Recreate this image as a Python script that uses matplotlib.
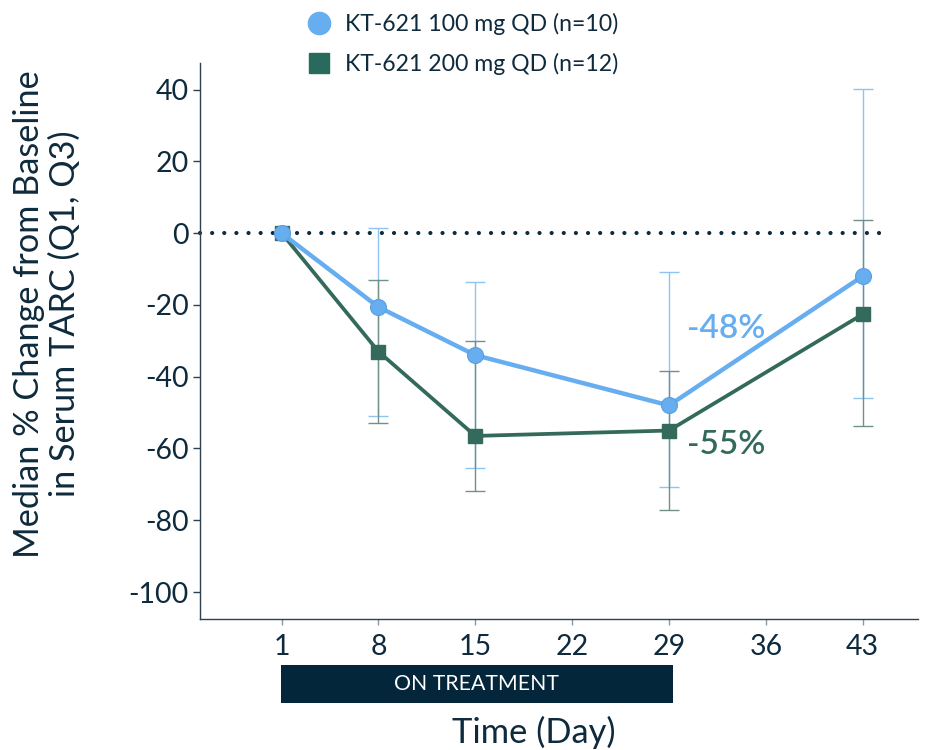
import matplotlib
matplotlib.use("Agg")
import matplotlib.pyplot as plt
from matplotlib.lines import Line2D
from matplotlib.patches import Rectangle
import matplotlib.transforms as mtransforms

# ---- data ----
days = [1, 8, 15, 29, 43]
med_100 = [0, -20.6, -34.0, -48.0, -12.0]
q1_100 = [0, -51.0, -65.5, -70.6, -46.0]
q3_100 = [0, 1.3, -13.5, -10.8, 40.1]
med_200 = [0, -33.0, -56.5, -55.0, -22.6]
q1_200 = [0, -53.0, -71.8, -77.0, -53.7]
q3_200 = [0, -13.1, -30.1, -38.4, 3.7]
xticks = [1, 8, 15, 22, 29, 36, 43]
yticks = [40, 20, 0, -20, -40, -60, -80, -100]
label_100 = "KT-621 100 mg QD (n=10)"
label_200 = "KT-621 200 mg QD (n=12)"
annot_100 = "-48%"
annot_200 = "-55%"

BLUE = "#66aef0"
BLUE_ERR = "#8fc3f2"
GREEN = "#336a5b"
GREEN_ERR = "#6f918a"
NAVY = "#0e2a3d"
DARK = "#03263a"

fig = plt.figure(figsize=(9.38, 7.5), dpi=100)
ax = fig.add_axes([0.2132, 0.1747, 0.7655, 0.7413])

ax.set_xlim(-4.9, 47)
ax.set_ylim(-107.5, 47.4)

# baseline dotted
ax.plot([-4.9, 44.8], [0, 0], color=NAVY, lw=3.0, dashes=(0.01, 2.9),
        dash_capstyle="round", zorder=1, clip_on=False)

# error bars
err100 = [[m - q for m, q in zip(med_100, q1_100)], [q - m for m, q in zip(med_100, q3_100)]]
err200 = [[m - q for m, q in zip(med_200, q1_200)], [q - m for m, q in zip(med_200, q3_200)]]
ax.errorbar(days[1:], med_100[1:], yerr=[e[1:] for e in err100], fmt="none",
            ecolor=BLUE_ERR, elinewidth=1.0, capsize=7, capthick=1.0, zorder=2)
ax.errorbar(days[1:], med_200[1:], yerr=[e[1:] for e in err200], fmt="none",
            ecolor=GREEN_ERR, elinewidth=1.0, capsize=7, capthick=1.0, zorder=2)

ax.plot(days, med_100, color=BLUE, lw=3.2, marker="o", ms=11.5,
        markerfacecolor=BLUE, markeredgecolor="#5a9fdf", markeredgewidth=0.8, zorder=4)
ax.plot(days, med_200, color=GREEN, lw=2.7, marker="s", ms=10.5,
        markerfacecolor=GREEN, markeredgecolor=GREEN, zorder=3)

ax.text(30.3, -26.7, annot_100, color=BLUE, fontsize=24, family="Lato",
        fontweight="semibold", va="center", ha="left")
ax.text(30.3, -59.0, annot_200, color=GREEN, fontsize=24, family="Lato",
        fontweight="semibold", va="center", ha="left")

# axes styling
for s in ["top", "right"]:
    ax.spines[s].set_visible(False)
for s in ["left", "bottom"]:
    ax.spines[s].set_color("#2c4152")
    ax.spines[s].set_linewidth(1.0)

ax.set_xticks(xticks)
ax.set_xticklabels([str(t) for t in xticks], family="Lato", fontsize=20.5, color=NAVY)
ax.set_yticks(yticks)
ax.set_yticklabels([str(t) for t in yticks], family="Lato", fontsize=20.5, color=NAVY)
ax.tick_params(axis="x", length=4, width=1, color="#8a98a3", pad=7)
ax.tick_params(axis="y", length=5, width=1, color="#2c4152", pad=3)

fig.text(47 / 938, 1 - 314 / 750, "Median % Change from Baseline\nin Serum TARC (Q1, Q3)",
         family="Lato", fontsize=24.7, color=NAVY, rotation=90, ha="center",
         va="center", multialignment="center", linespacing=1.12)

# treatment bar
trans = mtransforms.blended_transform_factory(ax.transData, fig.transFigure)
ax.add_patch(Rectangle((0.93, 0.0627), 29.3 - 0.93, 0.0506, transform=trans,
                       facecolor=DARK, edgecolor="none", clip_on=False))
ax.text((0.93 + 29.3) / 2, 0.088, "ON TREATMENT", transform=trans, color="white",
        family="Lato", fontsize=15.3, ha="center", va="center")

fig.text(534 / 938, 0.023, "Time (Day)", family="Lato", fontsize=24.8, color=NAVY,
         ha="center", va="center")

# legend
handles = [Line2D([], [], marker="o", color="none", markerfacecolor=BLUE,
                  markeredgecolor=BLUE, ms=16, label=label_100),
           Line2D([], [], marker="s", color="none", markerfacecolor="#286a5c",
                  markeredgecolor="#286a5c", ms=15, label=label_200)]
leg = fig.legend(handles=handles, loc="upper left", bbox_to_anchor=(0.318, 0.9955),
                 frameon=False, prop={"family": "Lato", "size": 16.6},
                 handlelength=1.0, handletextpad=0.64, labelspacing=0.81,
                 borderaxespad=0)
for t in leg.get_texts():
    t.set_color(NAVY)

fig.savefig("out.png", dpi=100)
